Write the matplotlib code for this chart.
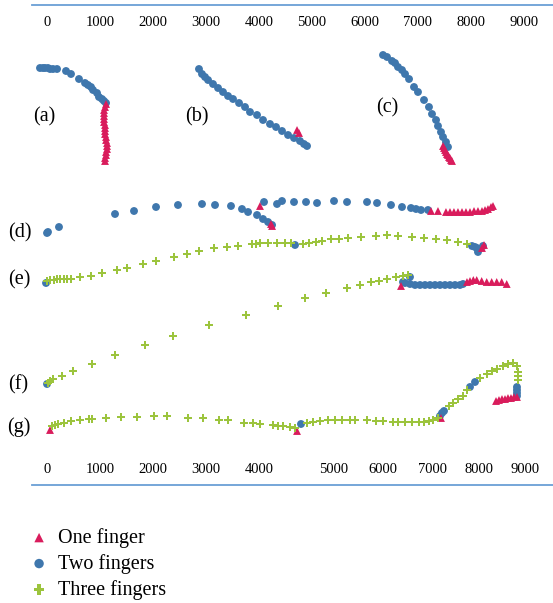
import numpy as np
import matplotlib
matplotlib.use("Agg")
import matplotlib.pyplot as plt

plt.rcParams["font.family"] = ["Liberation Serif", "DejaVu Serif"]

# ── Trajectory data (x on the top scale, y = vertical position, downwards) ──
A_TWO_X = [-142, -85, -47, 9, 47, 104, 180, 350, 444, 595, 709, 765, 822, 860, 936, 973, 1030, 1068, 1106]
A_TWO_Y = [68, 68, 68, 68, 69, 69, 69, 71, 74, 79, 83, 85, 87, 90, 93, 97, 99, 101, 103]
A_ONE_X = [1106, 1087, 1068, 1068, 1068, 1068, 1068, 1087, 1087, 1087, 1087, 1106, 1106, 1125, 1125, 1125, 1106, 1106, 1087, 1087]
A_ONE_Y = [104, 107, 110, 113, 116, 119, 122, 125, 128, 131, 134, 137, 140, 143, 146, 149, 152, 155, 158, 161]

B_TWO_X = [2863, 2920, 2977, 3034, 3128, 3223, 3317, 3412, 3506, 3620, 3733, 3827, 3960, 4073, 4205, 4319, 4432, 4546, 4659, 4772, 4848, 4905]
B_TWO_Y = [69, 74, 77, 80, 84, 88, 92, 96, 99, 103, 107, 112, 115, 120, 124, 127, 131, 135, 138, 141, 144, 146]
B_ONE_X = [4716, 4754]
B_ONE_Y = [130, 133]

C_TWO_X = [6341, 6417, 6511, 6568, 6624, 6700, 6757, 6833, 6927, 7002, 7116, 7210, 7267, 7343, 7380, 7437, 7475, 7531, 7569]
C_TWO_Y = [55, 57, 61, 63, 67, 70, 74, 79, 87, 92, 100, 107, 114, 120, 126, 132, 137, 142, 147]
C_ONE_X = [7475, 7494, 7513, 7531, 7550, 7569, 7588, 7607, 7626, 7645]
C_ONE_Y = [146, 148, 150, 152, 154, 155, 157, 158, 160, 161]

D_TWO_X = [-9, 9, 217, 1276, 1635, 2051, 2466, 2920, 3166, 3468, 3676, 3790, 3960, 4073, 4168, 4244,
           4092, 4338, 4432, 4659, 4886, 5094, 5415, 5661, 6039, 6228, 6492, 6700, 6870, 6965, 7059, 7191]
D_TWO_Y = [233, 232, 227, 214, 211, 207, 205, 204, 205, 206, 209, 212, 215, 219, 222, 225,
           202, 204, 201, 202, 202, 203, 201, 202, 202, 203, 205, 207, 208, 209, 210, 210]
D_ONE_X = [4016, 4224, 4244, 7248, 7380, 7531, 7607, 7682, 7758, 7834, 7909, 7985, 8061, 8136, 8212, 8269, 8325, 8382, 8420]
D_ONE_Y = [206, 224, 226, 211, 211, 212, 212, 212, 212, 212, 212, 212, 211, 211, 211, 210, 209, 207, 206]

E_THREE_X = [-9, 47, 123, 180, 236, 312, 369, 444, 614, 822, 1030, 1314, 1503, 1805, 2051, 2391, 2636, 2863,
             3147, 3393, 3601, 3865, 3941, 4016, 4168, 4338, 4489, 4602, 4829, 4943, 5075, 5188, 5358, 5510,
             5680, 5926, 6209, 6417, 6624, 6889, 7116, 7343, 7550, 7758, 7928]
E_THREE_Y = [281, 280, 280, 279, 279, 279, 279, 279, 277, 276, 273, 270, 268, 264, 261, 257, 254, 251,
             248, 247, 246, 244, 244, 243, 243, 243, 243, 243, 244, 243, 242, 241, 239, 239,
             238, 237, 236, 235, 236, 237, 238, 239, 240, 242, 244]
E_TWO_X = [-28, 4678, 8023, 8080, 8117, 8136, 8231]
E_TWO_Y = [283, 245, 246, 247, 248, 252, 246]
E_ONE_X = [8212, 8250]
E_ONE_Y = [248, 245]

F_THREE_X = [9, 47, 104, 274, 482, 841, 1276, 1843, 2372, 3053, 3752, 4357, 4867, 5264, 5661, 5907,
             6114, 6266, 6417, 6587, 6719, 6813]
F_THREE_Y = [383, 381, 379, 376, 371, 364, 355, 345, 336, 325, 315, 306, 298, 293, 288, 285,
             282, 281, 279, 277, 276, 275]
F_TWO_X = [-9, 6851, 6719, 6757, 6851, 6946, 7040, 7135, 7229, 7324, 7418, 7513, 7607, 7702, 7796, 7853]
F_TWO_Y = [384, 277, 282, 283, 284, 285, 285, 285, 285, 285, 285, 285, 285, 285, 285, 284]
F_ONE_X = [6681, 7928, 7985, 8048, 8112, 8206, 8301, 8395, 8490, 8584, 8679]
F_ONE_Y = [286, 282, 281, 280, 280, 281, 282, 282, 282, 282, 284]

G_THREE_X = [85, 142, 198, 312, 444, 614, 784, 841, 1106, 1389, 1692, 2013, 2258, 2655, 2939, 3241, 3412,
             3714, 3884, 4016, 4262, 4357, 4452, 4584, 4678, 4905, 5018, 5150, 5302, 5434, 5567, 5718,
             5812, 6039, 6209, 6341, 6530, 6624, 6757, 6889, 7021, 7116, 7210, 7286, 7380, 7588, 7664,
             7758, 7853, 7928, 8174, 8306, 8401, 8495, 8609, 8703, 8798, 8873, 8892, 8892, 8892]
G_THREE_Y = [426, 425, 424, 423, 421, 420, 419, 419, 418, 417, 417, 416, 416, 418, 418, 420, 420,
             423, 423, 424, 425, 426, 426, 427, 428, 423, 422, 421, 420, 420, 420, 420,
             420, 420, 421, 421, 422, 422, 422, 422, 422, 422, 421, 420, 418, 406, 403,
             399, 396, 390, 378, 374, 371, 369, 366, 364, 363, 366, 372, 376, 380]
G_TWO_X = [4791, 7418, 7456, 7494, 7985, 8080, 8873, 8873, 8873, 8873]
G_TWO_Y = [424, 416, 413, 411, 387, 382, 387, 390, 393, 396]
G_ONE_X = [47, 4716, 7437, 8873, 8817, 8760, 8703, 8647, 8590, 8533, 8477]
G_ONE_Y = [430, 431, 418, 397, 397, 398, 398, 399, 399, 400, 401]

PANEL_LABELS = ["(a)", "(b)", "(c)", "(d)", "(e)", "(f)", "(g)"]
LABEL_X = [-66, 2826, 6417, -520, -539, -558, -539]
LABEL_Y = [117, 117, 108, 233, 280, 385, 427]

TOP_TICKS = [0, 1000, 2000, 3000, 4000, 5000, 6000, 7000, 8000, 9000]
# where the bottom labels sit on the top scale (bottom scale is uneven)
BOTTOM_TICK_AT = [0, 1000, 2000, 3000, 4000, 5400, 6340, 7270, 8160, 9030]

RED = "#d91c5c"
BLUE = "#3f77ad"
GREEN = "#9cc43d"
LINE = "#6a9fd6"

one_x = A_ONE_X + B_ONE_X + C_ONE_X + D_ONE_X + E_ONE_X + F_ONE_X + G_ONE_X
one_y = A_ONE_Y + B_ONE_Y + C_ONE_Y + D_ONE_Y + E_ONE_Y + F_ONE_Y + G_ONE_Y
two_x = A_TWO_X + B_TWO_X + C_TWO_X + D_TWO_X + E_TWO_X + F_TWO_X + G_TWO_X
two_y = A_TWO_Y + B_TWO_Y + C_TWO_Y + D_TWO_Y + E_TWO_Y + F_TWO_Y + G_TWO_Y
three_x = E_THREE_X + F_THREE_X + G_THREE_X
three_y = E_THREE_Y + F_THREE_Y + G_THREE_Y

fig = plt.figure(figsize=(5.53, 6.03), dpi=100)
ax = fig.add_axes([32 / 553, 118 / 603, 521 / 553, 480 / 603])

h1 = ax.scatter(one_x, one_y, marker="^", s=32, color=RED, edgecolors="none", label="One finger", zorder=3)
h2 = ax.scatter(two_x, two_y, marker="o", s=32, color=BLUE, edgecolors="none", label="Two fingers", zorder=2)
h3 = ax.scatter(three_x, three_y, marker="P", s=38, color=GREEN, edgecolors="none", label="Three fingers", zorder=4)

for lab, lx, ly in zip(PANEL_LABELS, LABEL_X, LABEL_Y):
    ax.text(lx, ly, lab, fontsize=14.5, ha="center", va="center", clip_on=False)

ax.set_xlim(-293, 9554)
ax.set_ylim(485, 5)

for side in ["left", "right"]:
    ax.spines[side].set_visible(False)
for side in ["top", "bottom"]:
    ax.spines[side].set_color(LINE)
    ax.spines[side].set_linewidth(1.3)
ax.set_yticks([])

ax.xaxis.set_ticks_position("top")
ax.set_xticks(TOP_TICKS)
ax.tick_params(axis="x", length=0, pad=-17, labelsize=10.5)

# bottom scale
sec_ticks = np.array(TOP_TICKS, dtype=float)
prim_knots = np.array([-2000] + BOTTOM_TICK_AT + [12000], dtype=float)
sec_knots = np.concatenate([[-2000], sec_ticks, [12414]])
sec = ax.secondary_xaxis("bottom",
                         functions=(lambda v: np.interp(v, prim_knots, sec_knots),
                                    lambda v: np.interp(v, sec_knots, prim_knots)))
sec.set_xticks(TOP_TICKS)
sec.spines["bottom"].set_visible(False)
sec.tick_params(axis="x", length=0, pad=-15.5, labelsize=10.5)

fig.legend(handles=[h1, h2, h3], loc="upper left", bbox_to_anchor=(29 / 553, 1 - 528 / 603),
           frameon=False, fontsize=14.5, handlelength=1.0, handletextpad=0.45,
           borderpad=0, borderaxespad=0, labelspacing=0.3, markerscale=1.2, scatterpoints=1)

fig.savefig("out.png", dpi=100)
